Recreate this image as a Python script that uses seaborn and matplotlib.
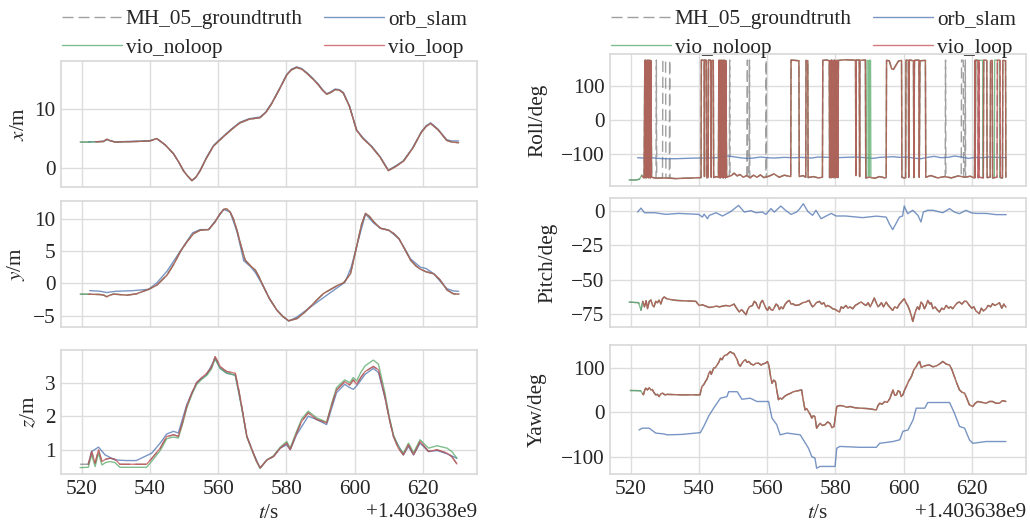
import numpy as np
import matplotlib
matplotlib.use("Agg")
import matplotlib.pyplot as plt
from matplotlib.lines import Line2D
from matplotlib.ticker import MultipleLocator
import seaborn as sns

# ---------------- data ----------------
T0 = 1403638000.0  # timestamp offset (s)

labels = ["MH_05_groundtruth", "orb_slam", "vio_noloop", "vio_loop"]

# x position [m]
x_t = [519.5, 522, 524, 526.4, 527.3, 528.5, 529.8, 533, 536, 540, 542, 544.5, 546.9, 548.5, 549.8, 551,
       552.3, 553.5, 554.7, 556.5, 558.6, 560, 561.5, 564, 566.4, 569, 572.3, 574, 575.7, 578, 580.1, 581.5,
       583, 584.5, 586, 587.8, 589.4, 590.6, 591.8, 593, 594.3, 595.5, 596.7, 598.5, 600.6, 602.5, 605,
       607.5, 609.9, 612, 614.3, 617, 619.6, 621, 622.3, 624.5, 627, 628.5, 630.5]
x_gt = [4.4, 4.4, 4.45, 4.5, 4.9, 4.6, 4.4, 4.45, 4.5, 4.6, 5.0, 3.9, 2.4, 0.9, -0.5, -1.4, -2.2, -1.6,
        -0.5, 1.6, 3.7, 4.5, 5.3, 6.6, 7.7, 8.3, 8.6, 9.5, 11.0, 13.5, 15.9, 16.8, 17.2, 16.9, 16.2, 15.2,
        14.2, 13.3, 12.6, 12.9, 13.4, 13.3, 12.8, 10.5, 6.4, 5.0, 3.6, 1.8, -0.5, 0.2, 1.1, 3.3, 6.1, 7.1,
        7.6, 6.5, 4.7, 4.4, 4.3]
x_orb = [4.45, 4.45, 4.45, 4.55, 4.8, 4.6, 4.45, 4.5, 4.55, 4.65, 5.0, 3.9, 2.4, 0.9, -0.5, -1.4, -2.2, -1.6,
         -0.5, 1.7, 3.8, 4.6, 5.4, 6.7, 7.8, 8.4, 8.7, 9.6, 11.1, 13.6, 16.0, 16.9, 17.3, 17.0, 16.3, 15.3,
         14.3, 13.4, 12.7, 13.0, 13.5, 13.4, 12.9, 10.6, 6.5, 5.1, 3.7, 1.9, -0.4, 0.3, 1.2, 3.4, 6.2, 7.2,
         7.7, 6.6, 4.8, 4.6, 4.6]

# y position [m]
y_t = [519.5, 522, 525.4, 526.5, 527.3, 528.2, 529.3, 531, 533.2, 536, 539.6, 542, 545, 547, 548.9, 550.8,
       552.8, 554.7, 557.2, 559.1, 560.5, 561.6, 562.5, 563.5, 564.5, 565.5, 566.7, 567.9, 569.5, 570.9,
       572, 573.3, 575, 577.2, 579, 580.7, 583.1, 585, 587, 589, 590.9, 593, 595, 596.8, 598.8, 600.7, 602,
       603.2, 604.4, 605.6, 607.6, 610, 611.5, 613, 614.7, 616.4, 618, 619.3, 621, 623.2, 625, 627.1, 629,
       630.6]
y_gt = [-1.64, -1.65, -1.7, -1.8, -2.05, -1.8, -1.64, -1.7, -1.8, -1.6, -0.9, -0.26, 1.3, 3.0, 4.9, 6.4,
        7.7, 8.2, 8.3, 9.5, 10.7, 11.4, 11.5, 11.0, 9.9, 8.2, 5.8, 3.6, 2.7, 2.05, 1.0, -0.5, -2.3, -4.1,
        -5.1, -5.74, -5.4, -4.6, -3.6, -2.5, -1.54, -0.9, -0.3, 0.1, 1.5, 5.9, 9.0, 10.8, 10.3, 9.5, 8.5,
        8.2, 7.7, 6.9, 5.3, 3.6, 2.7, 2.2, 1.8, 1.5, 0.6, -1.0, -1.6, -1.64]
y_orb_t = [522.3, 524, 525.5, 527.3, 528.5, 530, 535, 539.6, 542, 545, 548.9, 552.5, 554.7, 557.2, 559.1,
           561.6, 563.5, 565.5, 567.5, 569.5, 571, 573.3, 575, 577.2, 579, 580.7, 583, 590, 597.2, 599,
           600.7, 603.2, 605.6, 607.6, 610, 613, 616.4, 619.3, 621, 623.2, 625, 627.1, 629, 630.5]
y_orb = [-1.1, -1.15, -1.2, -1.4, -1.3, -1.2, -1.1, -0.9, 0.1, 1.9, 5.0, 7.8, 8.3, 8.3, 9.6, 11.4, 11.0,
         8.0, 3.5, 2.6, 1.6, -0.5, -2.3, -4.1, -5.1, -5.8, -5.2, -2.5, 0.2, 2.5, 5.9, 10.7, 9.3, 8.5, 8.2,
         6.9, 3.8, 2.5, 2.3, 1.5, 0.4, -0.8, -1.15, -1.2]

# z position [m]
z_t = [519.5, 521.9, 522.9, 523.9, 524.9, 525.9, 527, 528.3, 529.7, 531.2, 535, 539, 541, 543, 544.9, 546,
       546.9, 548.3, 549.5, 550.8, 552.3, 553.7, 555.2, 556.7, 558, 559.1, 560.6, 561.5, 562.5, 564, 565,
       566, 566.9, 568.4, 570.3, 571.3, 572.3, 574.3, 576.2, 578.2, 580.1, 581.1, 583, 584.5, 586.4, 588.9,
       590.5, 591.8, 593.2, 594.7, 597.1, 598.6, 599.6, 600.6, 601.8, 603.1, 605.5, 607, 608.9, 610.2,
       611.4, 612.8, 614.3, 615.8, 617.3, 619.2, 621.7, 624.2, 627.1, 628.5, 630]
z_loop = [0.57, 0.57, 0.95, 0.6, 1.0, 0.65, 0.72, 0.75, 0.72, 0.57, 0.57, 0.57, 0.8, 1.05, 1.4, 1.42, 1.45,
          1.4, 1.8, 2.3, 2.7, 3.0, 3.15, 3.28, 3.45, 3.77, 3.48, 3.4, 3.33, 3.3, 3.28, 2.8, 2.29, 1.4, 0.9,
          0.65, 0.46, 0.7, 0.8, 1.05, 1.2, 1.0, 1.5, 1.85, 2.1, 1.9, 1.85, 1.8, 2.3, 2.78, 3.03, 2.93, 3.08,
          2.95, 3.15, 3.33, 3.48, 3.38, 2.58, 1.9, 1.4, 1.05, 0.85, 1.15, 0.85, 1.25, 0.95, 1.0, 0.9, 0.8,
          0.58]
z_noloop = [0.47, 0.48, 0.85, 0.5, 0.9, 0.55, 0.62, 0.65, 0.62, 0.48, 0.48, 0.48, 0.72, 0.98, 1.33, 1.36,
            1.38, 1.35, 1.75, 2.25, 2.65, 2.95, 3.1, 3.22, 3.4, 3.7, 3.42, 3.35, 3.28, 3.25, 3.22, 2.75, 2.25,
            1.38, 0.88, 0.63, 0.45, 0.7, 0.82, 1.08, 1.25, 1.05, 1.55, 1.92, 2.15, 1.95, 1.88, 1.82, 2.35,
            2.85, 3.08, 3.0, 3.15, 3.05, 3.3, 3.5, 3.67, 3.55, 2.7, 1.95, 1.45, 1.1, 0.9, 1.2, 0.92, 1.3,
            1.05, 1.12, 1.05, 0.95, 0.75]
z_orb_t = [521.9, 522.9, 524.9, 526.8, 529.7, 533, 536, 540.5, 543, 544.9, 546.9, 548.3, 550.8, 553.7,
           556.7, 559.1, 560.6, 562.5, 565, 566.9, 568.4, 570.3, 572.3, 574.3, 576.2, 578.2, 580.1, 581.1,
           583, 586.4, 588.9, 591.8, 594.7, 597.1, 598.6, 599.6, 600.6, 603.1, 605.5, 607, 608.9, 611.4,
           614.3, 615.8, 617.3, 619.2, 621.7, 624.2, 627.1, 630]
z_orb = [0.57, 0.95, 1.08, 0.85, 0.7, 0.68, 0.68, 0.9, 1.2, 1.47, 1.55, 1.5, 2.35, 3.0, 3.25, 3.72, 3.42,
         3.28, 3.22, 2.25, 1.4, 0.9, 0.46, 0.7, 0.8, 1.05, 1.15, 1.0, 1.45, 2.0, 1.9, 1.75, 2.7, 2.95, 2.85,
         2.8, 2.9, 3.25, 3.42, 3.3, 2.55, 1.4, 0.85, 1.1, 0.85, 1.2, 0.95, 0.98, 0.88, 0.75]

# roll [deg]  (time, value) samples, wrapping at +-180
roll_loop = [
    (523.2, -166), (523.9, -172),
    (524.1, 177), (524.25, -171), (524.4, 178), (524.55, -172), (524.7, 176), (524.85, -170), (525.0, 178),
    (525.15, -172), (525.3, 177), (525.45, -171), (525.6, 178), (525.75, -172), (525.9, 176), (526.1, -170),
    (527.5, -173), (530.0, -172), (533.0, -174), (536.0, -173), (538.5, -172), (540.6, -171),
    (540.7, 178), (541.5, 177), (541.6, -168), (541.7, 178), (542.2, 177), (542.3, -172), (542.7, -170),
    (542.8, 178), (543.5, 177), (543.6, -170), (543.7, 176), (544.2, 177), (544.3, -171),
    (545.0, -168), (545.7, -170),
    (545.8, 177), (545.95, -171), (546.1, 178), (546.25, -172), (546.4, 177), (546.55, -170), (546.7, 178),
    (546.85, -171), (547.0, 176), (547.15, -172), (547.3, 178), (547.45, -170), (547.6, 177), (547.75, -172),
    (547.9, 176), (548.1, -170),
    (549.5, -165), (550.3, -158), (551.2, -166), (552.0, -162), (553.0, -170), (554.0, -165), (555.0, -172),
    (556.0, -164), (557.0, -170), (558.0, -163), (559.0, -171), (560.5, -167), (562.0, -160), (563.5, -170),
    (565.0, -164), (566.9, -168),
    (567.0, 178), (569.3, 176), (569.4, -168), (570.5, -165), (571.3, -170), (571.4, 177), (571.9, 176),
    (572.0, -171), (573.5, -168), (575.0, -172), (576.2, -170),
    (576.3, 177), (577.5, 178), (578.2, 176), (578.3, -171), (578.5, 177), (578.7, -172), (578.9, 178),
    (579.1, -170), (579.3, 177), (579.5, -171), (579.7, 178), (579.9, -172), (580.1, 176), (580.3, -170),
    (580.5, 178), (580.7, -171), (580.9, 177),
    (583.0, 179), (585.0, 178), (585.9, 177), (586.0, -165), (586.1, 178), (587.0, 178), (587.1, -168),
    (587.2, 177), (588.8, 178), (588.9, -172),
    (590.0, -170), (591.5, -173), (593.0, -168), (594.5, -172), (594.9, -171),
    (595.0, 177), (595.8, 176), (596.5, 152), (597.0, 150), (597.6, 160), (598.5, 175), (599.4, 177),
    (599.5, -170), (600.2, -172), (600.6, -171),
    (600.7, 178), (601.4, 177), (601.5, -170), (601.7, 178), (602.9, 176), (603.0, -171), (603.2, 177),
    (604.5, 178), (604.6, -170), (604.8, 176), (606.4, 177), (606.5, -170),
    (608.0, -165), (610.0, -172), (612.0, -168), (614.0, -172), (616.0, -166), (618.0, -170), (619.5, -167),
    (620.8, -172),
    (620.9, 177), (621.0, -171), (621.1, 178), (621.8, 176), (621.9, -172), (622.1, 177), (622.2, -170),
    (623.4, -172), (623.5, 178), (624.4, 177), (624.5, -171), (625.4, -170), (625.5, 176), (626.0, 177),
    (626.1, -172), (627.4, -170), (627.5, 178), (628.3, 177), (628.4, -171), (629.0, -172), (629.1, 177),
    (629.9, 176), (630.0, -170),
]
roll_noloop = [
    (519.5, -178), (521.5, -178), (522.5, -176), (523.0, -168), (523.2, -163), (523.9, -172),
    (524.1, 177), (524.25, -171), (524.4, 178), (524.55, -172), (524.7, 176), (524.85, -170), (525.0, 178),
    (525.15, -172), (525.3, 177), (525.45, -171), (525.6, 178), (525.75, -172), (525.9, 176), (526.1, -170),
    (527.5, -173), (530.0, -172), (533.0, -174), (536.0, -173), (538.5, -172), (540.6, -171),
    (540.7, 178), (541.5, 177), (541.6, -168), (541.7, 178), (542.2, 177), (542.3, -172), (542.7, -170),
    (542.8, 178), (543.5, 177), (543.6, -170), (543.7, 176), (544.2, 177), (544.3, -171),
    (545.0, -168), (545.7, -170),
    (545.8, 177), (545.95, -171), (546.1, 178), (546.25, -172), (546.4, 177), (546.55, -170), (546.7, 178),
    (546.85, -171), (547.0, 176), (547.15, -172), (547.3, 178), (547.45, -170), (547.6, 177), (547.75, -172),
    (547.9, 176), (548.1, -170),
    (549.5, -165), (550.3, -158), (551.2, -166), (552.0, -162), (553.0, -170), (554.0, -165), (555.0, -172),
    (556.0, -164), (557.0, -170), (558.0, -163), (559.0, -171), (560.5, -167), (562.0, -160), (563.5, -170),
    (565.0, -164), (566.9, -168),
    (567.0, 178), (569.3, 176), (569.4, -168), (570.5, -165), (571.3, -170), (571.4, 177), (571.9, 176),
    (572.0, -171), (573.5, -168), (575.0, -172), (576.2, -170),
    (576.3, 177), (577.5, 178), (578.2, 176), (578.3, -171), (578.5, 177), (578.7, -172), (578.9, 178),
    (579.1, -170), (579.3, 177), (579.5, -171), (579.7, 178), (579.9, -172), (580.1, 176), (580.3, -170),
    (580.5, 178), (580.7, -171), (580.9, 177),
    (583.0, 179), (585.0, 178), (585.9, 177), (586.0, -165), (586.1, 178), (587.0, 178), (587.1, -168),
    (587.2, 177), (588.8, 178), (588.9, -172),
    (589.2, -171), (589.3, 177), (589.8, 176), (589.9, -170), (590.0, 178), (590.3, 177), (590.4, -171),
    (591.5, -173), (593.0, -168), (594.5, -172), (594.9, -171),
    (595.0, 177), (595.8, 176), (596.5, 152), (597.0, 150), (597.6, 160), (598.5, 175), (599.4, 177),
    (599.5, -170), (600.2, -172), (600.6, -171),
    (600.7, 178), (601.4, 177), (601.5, -170), (601.7, 178), (602.9, 176), (603.0, -171), (603.2, 177),
    (604.5, 178), (604.6, -170), (604.8, 176), (606.4, 177), (606.5, -170),
    (608.0, -165), (610.0, -172), (612.0, -168), (614.0, -172), (616.0, -166), (618.0, -170), (619.5, -167),
    (620.8, -172),
    (620.9, 177), (621.0, -171), (621.2, 178), (623.2, 177), (623.3, -171), (623.5, 178), (624.4, 177),
    (624.5, -171), (625.4, -170), (625.5, 176), (626.0, 177), (626.1, -172), (626.6, -171), (626.7, 178),
    (628.1, 177), (628.2, -171), (629.0, -172), (629.1, 177), (629.9, 176), (630.0, -170),
]
roll_gt = [
    (519.5, -178), (521.5, -178), (522.5, -176), (523.0, -168), (523.2, -166), (523.9, -172),
    (524.1, 177), (524.25, -171), (524.4, 178), (524.55, -172), (524.7, 176), (524.85, -170), (525.0, 178),
    (525.15, -172), (525.3, 177), (525.45, -171), (525.6, 178), (525.75, -172), (525.9, 176), (526.1, -170),
    (527.4, -173), (527.5, 178), (527.6, -172), (529.3, -172), (529.4, 178), (530.2, 177), (530.3, -172),
    (531.3, -173), (531.4, 178), (531.5, -172),
    (533.0, -174), (536.0, -173), (538.5, -172), (540.6, -171),
    (540.7, 178), (541.5, 177), (541.6, -168), (541.7, 178), (542.2, 177), (542.3, -172), (542.7, -170),
    (542.8, 178), (543.5, 177), (543.6, -170), (543.7, 176), (544.2, 177), (544.3, -171),
    (545.0, -168), (545.7, -170),
    (545.8, 177), (545.95, -171), (546.1, 178), (546.25, -172), (546.4, 177), (546.55, -170), (546.7, 178),
    (546.85, -171), (547.0, 176), (547.15, -172), (547.3, 178), (547.45, -170), (547.6, 177), (547.75, -172),
    (547.9, 176), (548.1, -170),
    (548.9, -166), (549.0, 178), (549.1, -166),
    (550.3, -158), (551.2, -166), (552.0, -162), (553.0, -170), (554.0, -165),
    (554.2, 178), (554.3, -166), (554.7, -170), (554.8, 178), (554.9, -170),
    (556.0, -164), (557.0, -170), (558.0, -163), (559.0, -171), (559.6, -170), (559.7, 178), (559.8, -169),
    (560.5, -167), (562.0, -160), (563.5, -170), (565.0, -164), (566.9, -168),
    (567.0, 178), (569.3, 176), (569.4, -168), (570.5, -165), (571.3, -170), (571.4, 177), (571.9, 176),
    (572.0, -171), (573.5, -168), (575.0, -172), (576.2, -170),
    (576.3, 177), (577.5, 178), (578.2, 176), (578.3, -171), (578.5, 177), (578.7, -172), (578.9, 178),
    (579.1, -170), (579.3, 177), (579.5, -171), (579.7, 178), (579.9, -172), (580.1, 176), (580.3, -170),
    (580.5, 178), (580.7, -171), (580.9, 177),
    (583.0, 179), (585.0, 178), (585.9, 177), (586.0, -165), (586.1, 178), (587.0, 178), (587.1, -168),
    (587.2, 177), (588.8, 178), (588.9, -172),
    (590.0, -170), (591.5, -173), (593.0, -168), (594.5, -172), (594.9, -171),
    (595.0, 177), (595.8, 176), (596.5, 152), (597.0, 150), (597.6, 160), (598.5, 175), (599.4, 177),
    (599.5, -170), (600.2, -172), (600.6, -171),
    (600.7, 178), (601.4, 177), (601.5, -170), (601.7, 178), (602.9, 176), (603.0, -171), (603.2, 177),
    (604.5, 178), (604.6, -170), (604.8, 176), (606.4, 177), (606.5, -170),
    (608.0, -165), (610.0, -172), (612.0, -168), (612.2, -168), (612.3, 178), (612.4, -168),
    (614.0, -172), (616.0, -166), (616.9, -168), (617.0, 178), (617.5, 177), (617.6, -170),
    (618.0, -170), (618.1, 178), (618.2, -170), (619.5, -167), (620.8, -172),
    (620.9, 177), (621.0, -171), (621.1, 178), (621.8, 176), (621.9, -172), (622.1, 177), (622.2, -170),
    (623.4, -172), (623.5, 178), (624.4, 177), (624.5, -171), (625.4, -170), (625.5, 176), (626.0, 177),
    (626.1, -172), (627.4, -170), (627.5, 178), (628.3, 177), (628.4, -171), (629.0, -172), (629.1, 177),
    (629.9, 176), (630.0, -170),
]
roll_orb_t = [522, 524, 526, 528, 530, 533, 536, 539, 542, 545, 547, 548.5, 550, 552, 554, 556, 558, 560, 562,
              565, 568, 570, 573, 575, 578, 580, 583, 586, 589, 591, 593, 595, 597, 599, 601, 603, 605, 607,
              609, 611, 613, 615, 617, 619, 621, 623, 625, 627, 630]
roll_orb = [-112, -113, -112, -114, -115, -115, -114, -113, -113, -112, -110, -107, -109, -112, -114, -113,
            -110, -112, -113, -111, -112, -111, -113, -110, -111, -112, -111, -110, -112, -114, -111, -110,
            -109, -111, -110, -113, -115, -111, -108, -112, -111, -107, -110, -114, -111, -112, -110, -111,
            -112]

# pitch [deg]  (time, value) samples
pitch_vio = [
    (519.5, -66.5), (521.5, -66.8), (522.3, -67), (523.0, -72.5), (523.5, -66), (524.0, -70), (524.5, -65.5),
    (524.9, -71.4), (525.4, -66), (525.9, -65), (526.4, -69), (526.8, -70), (527.3, -66), (527.8, -67),
    (528.3, -65), (528.8, -68), (529.3, -64), (529.8, -62.8), (530.5, -64), (531.3, -64.5), (533.3, -65.3),
    (536, -65.6), (539.1, -66), (540.0, -69), (541, -68.5), (542.0, -69.5), (543, -70.5), (544.0, -70.2),
    (545, -69.5), (546, -70), (547.9, -69), (549, -69.5), (550.3, -68), (550.8, -70.2), (551.3, -72),
    (551.8, -73.8), (552.5, -72), (553.2, -74), (553.8, -75.8), (554.3, -72), (554.8, -70), (555.7, -69),
    (556.2, -66), (556.7, -67), (557.2, -70), (557.6, -71.4), (558.1, -67), (558.6, -65.3), (559.1, -68),
    (559.6, -71), (560.1, -72.6), (560.6, -70), (561.1, -72), (561.6, -72.6), (562.2, -70), (562.6, -68),
    (563.1, -69), (563.6, -72), (564.1, -70), (564.6, -71.4), (565.3, -68), (566, -66), (566.5, -65.3),
    (567, -68), (567.5, -67.7), (568.3, -69), (569.4, -68.5), (570.4, -67), (571.3, -66.5), (572.3, -65.3),
    (572.8, -68), (573.3, -70), (573.8, -69), (574.4, -67), (575.3, -66), (576, -68), (576.6, -67),
    (577.2, -70), (577.7, -69), (578.5, -70), (579.2, -71.4), (580, -72), (580.6, -73), (581.2, -73.8),
    (581.7, -70), (582.3, -71), (583.1, -69), (583.7, -71), (584.3, -70), (585.1, -71.4), (585.8, -69),
    (586.5, -68), (587.1, -67), (587.6, -66.5), (588.3, -68), (589.0, -69), (589.6, -67), (590.2, -70),
    (590.8, -67), (591.4, -63.6), (592, -67), (592.5, -70), (592.9, -69), (593.5, -67), (594.1, -70),
    (594.9, -66.5), (595.5, -69), (596.2, -71), (596.8, -72.6), (597.4, -70), (598.1, -71), (598.8, -68),
    (599.5, -66), (600.2, -64), (600.7, -67), (601.2, -69), (601.7, -72), (602.2, -76), (602.7, -80.7),
    (603.2, -76), (603.6, -72.6), (604.1, -70), (604.6, -72), (605.1, -66.5), (605.6, -68), (606.1, -71.4),
    (606.6, -69), (607.1, -65.3), (607.7, -68), (608.1, -67), (608.6, -71.4), (609.2, -70), (609.8, -72),
    (610.5, -73.8), (611.2, -71), (611.8, -72), (612.5, -69), (613.2, -71), (613.8, -70), (614.4, -71.4),
    (615.1, -69), (615.8, -67), (616.4, -66.5), (617.1, -68), (617.8, -66), (618.4, -65.9), (619.0, -68),
    (619.3, -69), (620.0, -71), (620.6, -70), (621.2, -73), (621.7, -74), (622.2, -75), (622.8, -71),
    (623.4, -73), (624.2, -71.4), (624.8, -69), (625.5, -70), (626.1, -67.7), (626.8, -69), (627.5, -68),
    (628.1, -67), (628.8, -71), (629.4, -68), (630.0, -70.2),
]
pitch_orb_t = [522, 523, 524, 527, 530.3, 534, 539.9, 541, 541.5, 542.5, 543, 545, 546.9, 549.4, 551.6,
               553.3, 555.2, 556.7, 558.6, 559.6, 561.1, 562.1, 564, 565.5, 567, 568.6, 569.4, 570.6, 571.9,
               573.3, 574.3, 575.8, 577.3, 578.8, 580.2, 583, 588, 592, 594.9, 595.8, 596.8, 597.5, 598.8,
               599.7, 600.2, 601.2, 602.7, 604.2, 605.1, 605.8, 607.1, 608.6, 611.5, 613.5, 614.9, 616.4,
               618.3, 619.8, 621.3, 624.2, 627.1, 630.1]
pitch_orb = [-0.5, 2.4, -1.0, -1.0, -2.2, -1.5, -2.2, -4.2, -2.0, -5.4, -3.0, -1.0, -3.4, 0.0, 4.4, -0.5,
             0.5, -1.0, -0.5, -2.2, 2.0, -0.5, 3.9, 0.5, -2.2, -0.5, 1.5, 5.6, 0.0, -2.9, 0.8, -5.4, -3.4,
             -1.5, -3.4, -3.4, -4.6, -3.5, -4.2, -9.0, -13.4, -10.2, -4.2, -3.4, 3.9, -1.7, 0.8, -2.9, -7.8,
             -0.5, 0.8, 0.8, -1.0, 2.0, -0.5, -1.7, 0.8, -1.0, -1.5, -1.5, -2.4, -2.4]

# yaw [deg]  (time, value) samples
yaw_vio = [
    (519.8, 48.7), (521.5, 48.5), (522.9, 48), (523.4, 42), (523.7, 39), (524.1, 50), (524.4, 54), (524.9, 50),
    (525.4, 55), (525.9, 50), (526.3, 51), (526.8, 44), (527.3, 39), (527.8, 40), (528.3, 35), (528.8, 41),
    (529.3, 42.7), (530.0, 39), (530.7, 40), (534.5, 39), (538.5, 39), (540.3, 39), (540.6, 50), (540.9, 57.7),
    (541.4, 62), (541.9, 69), (542.4, 75), (542.9, 87.6), (543.3, 92), (543.6, 85), (544.3, 99), (544.8, 100),
    (545.3, 106), (545.8, 112), (546.3, 121), (546.8, 118), (547.2, 125), (547.7, 128), (548.2, 129),
    (548.7, 133), (549.2, 136), (549.7, 133), (550.2, 132), (550.7, 125), (551.2, 118), (551.6, 108),
    (552.1, 103), (552.6, 110), (553.1, 115), (553.6, 118), (554.1, 112), (554.6, 114), (555.3, 108),
    (556.0, 106), (556.7, 110), (557.5, 110), (558.2, 106), (558.9, 109), (559.5, 110), (560.1, 114),
    (560.5, 105), (560.7, 95), (561.0, 80), (561.4, 65), (561.9, 72), (562.4, 69), (562.8, 50), (563.3, 28),
    (563.8, 32), (564.3, 29), (565.0, 35), (565.8, 39), (566.7, 42), (567.7, 46), (568.9, 48), (570.1, 50),
    (570.5, 30), (571.1, 5), (571.6, 8), (572.1, 1.5), (572.6, -5), (573.1, -13.5), (573.5, -8), (574.0, -10),
    (574.3, -25), (574.5, -36), (575.0, -30), (575.5, -25), (576.2, -30), (577.0, -28), (577.7, -22),
    (578.4, -25), (579.0, -35), (579.6, -32), (580.0, -10), (580.4, 12.7), (581.3, 15), (582.3, 14),
    (583.3, 11), (584.3, 12.7), (585.7, 10), (587.2, 9), (589.6, 8), (592.0, 5), (592.5, 15), (593.0, 20),
    (593.7, 18), (594.5, 24), (595.2, 22), (596.0, 31), (596.4, 40), (596.9, 50), (597.4, 38), (597.9, 39),
    (598.4, 48), (598.9, 46), (599.3, 35), (599.8, 39), (600.3, 50), (600.8, 57.7), (601.5, 70), (602.3, 80),
    (603.0, 95), (603.7, 102.6), (604.2, 110), (604.7, 114), (605.2, 100), (605.7, 102.6), (606.6, 105),
    (607.6, 106), (608.6, 102), (609.6, 104), (610.5, 108), (611.5, 114), (612.5, 108), (613.5, 106),
    (614.2, 95), (614.9, 80), (615.6, 65), (616.4, 50), (617.1, 45), (617.9, 42.7), (618.6, 30), (619.3, 16.5),
    (620.3, 12.7), (621.0, 20), (621.8, 24), (623.0, 22), (624.2, 20), (625.2, 24), (626.1, 24), (627.1, 20),
    (628.1, 20), (629.0, 26), (630.0, 24),
]
yaw_orb_t = [522.4, 523.4, 525.4, 527.3, 529.7, 530.7, 535, 540.4, 541.4, 542.9, 544.3, 546.3, 548.2, 548.7,
             551.2, 552.6, 555, 557, 560.4, 561.4, 562.8, 563.8, 565.8, 569.7, 572.1, 573.1, 574, 574.5,
             575.5, 579.9, 580.4, 581.3, 587.2, 592, 593, 596.9, 598.9, 599.8, 601.3, 602.8, 603.7, 606.2,
             607.1, 613.5, 614.9, 616.4, 617.9, 619.3, 620.3, 624.2, 630]
yaw_orb = [-40, -36, -36, -47, -49, -51, -50, -46, -32, -8, 9, 31.5, 35, 46, 46, 29, 31.5, 24, 24, -13.5,
           -28, -51, -47, -51, -81, -100, -103, -126, -122, -122, -81, -77, -79, -79, -70, -66, -62, -43, -40,
           -17, 9, 9, 21.7, 21.7, -2, -32, -36, -62, -70, -66, -66]

# ---------------- style ----------------
sns.set_theme(style="whitegrid")
plt.rcParams["font.family"] = "serif"
plt.rcParams["font.serif"] = ["Liberation Serif", "DejaVu Serif"]
plt.rcParams["mathtext.fontset"] = "stix"
FS = 15.3
plt.rcParams.update({"font.size": FS, "axes.labelsize": FS, "xtick.labelsize": FS,
                     "ytick.labelsize": FS, "legend.fontsize": FS,
                     "axes.edgecolor": "#d9d9d9", "grid.color": "#dddddd",
                     "axes.labelcolor": "#262626", "xtick.color": "#262626", "ytick.color": "#262626"})

COL_GT, COL_ORB, COL_NL, COL_L = "gray", "#4C72B0", "#55A868", "#C44E52"
DASH = (0, (8, 3.5))
LW, ALPHA = 1.0, 0.75

W, H = 1030, 527
fig = plt.figure(figsize=(W / 100, H / 100), dpi=100)


def add_ax(x0, x1, y0, y1):
    return fig.add_axes([x0 / W, 1 - y1 / H, (x1 - x0) / W, (y1 - y0) / H])


left_rows = [(61, 187), (201, 327), (350, 474)]
right_rows = [(54, 186), (198, 327), (345, 474)]
axL = [add_ax(61, 477, a, b) for a, b in left_rows]
axR = [add_ax(610, 1026, a, b) for a, b in right_rows]


def line(ax, t, v, color, ls="-"):
    sns.lineplot(x=np.asarray(t, float) + T0, y=np.asarray(v, float), ax=ax, color=color,
                 linestyle=ls, linewidth=LW, alpha=ALPHA, estimator=None, sort=False, legend=False)


def unzip(pairs):
    return [p[0] for p in pairs], [p[1] for p in pairs]


pt, pv = unzip(pitch_vio)
yt, yv = unzip(yaw_vio)
panels = [
    (axL[0], [(x_t, x_gt), (x_t[1:], x_orb[1:]), (x_t, x_gt), (x_t[2:], x_gt[2:])], "$x$/m", (-3.3, 18.3), 10),
    (axL[1], [(y_t, y_gt), (y_orb_t, y_orb), (y_t, y_gt), (y_t[1:], y_gt[1:])], "$y$/m", (-6.7, 12.7), 5),
    (axL[2], [(z_t, z_loop), (z_orb_t, z_orb), (z_t, z_noloop), (z_t[1:], z_loop[1:])], "$z$/m",
     (0.28, 3.97), 1),
    (axR[0], [unzip(roll_gt), (roll_orb_t, roll_orb), unzip(roll_noloop), unzip(roll_loop)], "Roll/deg",
     (-196, 196), 100),
    (axR[1], [(pt, pv), (pitch_orb_t, pitch_orb), (pt, pv), (pt[4:], pv[4:])], "Pitch/deg", (-84.8, 9.8), 25),
    (axR[2], [(yt, yv), (yaw_orb_t, yaw_orb), (yt, yv), (yt[3:], yv[3:])], "Yaw/deg", (-139, 151), 100),
]

styles = [(COL_GT, DASH), (COL_ORB, "-"), (COL_NL, "-"), (COL_L, "-")]
for i, (ax, series, ylab, ylim, step) in enumerate(panels):
    for (t, v), (c, ls) in zip(series, styles):
        line(ax, t, v, c, ls)
    ax.set_xlim(T0 + 513.9, T0 + 635.9)
    ax.set_ylim(*ylim)
    ax.xaxis.set_major_locator(MultipleLocator(20))
    ax.yaxis.set_major_locator(MultipleLocator(step))
    ax.set_ylabel(ylab, labelpad=(4 if i < 3 else 10))
    ax.tick_params(length=0, pad=4)
    if i in (2, 5):
        ax.set_xlabel("$t$/s")
    else:
        ax.tick_params(labelbottom=False)
        ax.xaxis.get_offset_text().set_visible(False)
        ax.set_xlabel("")

# legends (one per column)
handles = [Line2D([], [], color=COL_GT, ls=DASH, lw=LW, alpha=ALPHA),
           Line2D([], [], color=COL_NL, lw=LW, alpha=ALPHA),
           Line2D([], [], color=COL_ORB, lw=LW, alpha=ALPHA),
           Line2D([], [], color=COL_L, lw=LW, alpha=ALPHA)]
leg_labels = [labels[0], labels[2], labels[1], labels[3]]
for x0 in (61, 610):
    fig.legend(handles, leg_labels, loc="upper left", bbox_to_anchor=(x0 / W, 1 - 8 / H),
               ncol=2, frameon=False, borderaxespad=0, borderpad=0.05,
               handlelength=2.8, handletextpad=0.2, labelspacing=0.42, columnspacing=1.0)

fig.savefig("out.png", dpi=100)
